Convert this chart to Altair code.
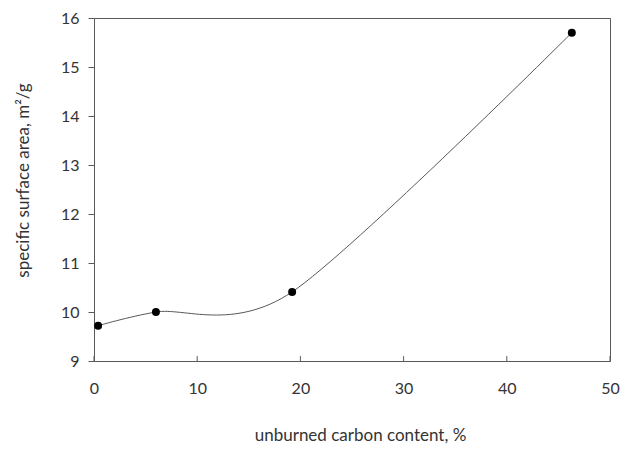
import altair as alt
import pandas as pd

carbon = [0.4, 6.0, 19.2, 46.3]
surface = [9.72, 10.0, 10.41, 15.7]
x_ticks = [0, 10, 20, 30, 40, 50]
y_ticks = [9, 10, 11, 12, 13, 14, 15, 16]

df = pd.DataFrame({"carbon": carbon, "surface": surface})
ticks_df = pd.DataFrame({"t": x_ticks})

FONT = "Lato"
AXIS = "#595959"
TEXT = "#333333"

xscale = alt.Scale(domain=[0, 50], nice=False)
yscale = alt.Scale(domain=[9, 16], nice=False, zero=False)

xenc = alt.X("carbon:Q", scale=xscale, axis=alt.Axis(
    values=x_ticks, ticks=False, grid=False, domainColor=AXIS,
    labelFont=FONT, labelFontSize=16, labelColor=TEXT, labelPadding=19,
    labelFlush=False,
    title="unburned carbon content, %", titleFont=FONT, titleFontSize=17,
    titleFontWeight="normal", titleColor=TEXT, titlePadding=31, titleX=266))
yenc = alt.Y("surface:Q", scale=yscale, axis=alt.Axis(
    values=y_ticks, grid=False, domainColor=AXIS, tickColor=AXIS,
    tickSize=6, labelFont=FONT, labelFontSize=16, labelColor=TEXT,
    labelPadding=9, labelFlush=False,
    title="specific surface area, m²/g", titleFont=FONT,
    titleFontSize=17, titleFontWeight="normal", titleColor=TEXT,
    titlePadding=28, titleY=162))

line = alt.Chart(df).mark_line(
    interpolate="cardinal", tension=0.15, color=AXIS, strokeWidth=1
).encode(x=xenc, y=yenc)

pts = alt.Chart(df).mark_circle(color="black", size=64, opacity=1).encode(
    x="carbon:Q", y="surface:Q")

xt = alt.Chart(ticks_df).mark_rule(color=AXIS, strokeWidth=1).encode(
    x=alt.X("t:Q", scale=xscale),
    y=alt.Y(datum=9, scale=yscale),
    y2=alt.Y2(datum=9.1))

chart = alt.layer(line, xt, pts).properties(
    width=516, height=343,
    autosize=alt.AutoSizeParams(type="none"),
    padding={"left": 86, "top": 10, "right": 10, "bottom": 83},
).configure_view(stroke=AXIS, strokeWidth=1)

chart.save("out.html", embed_options={"renderer": "svg", "actions": False})
